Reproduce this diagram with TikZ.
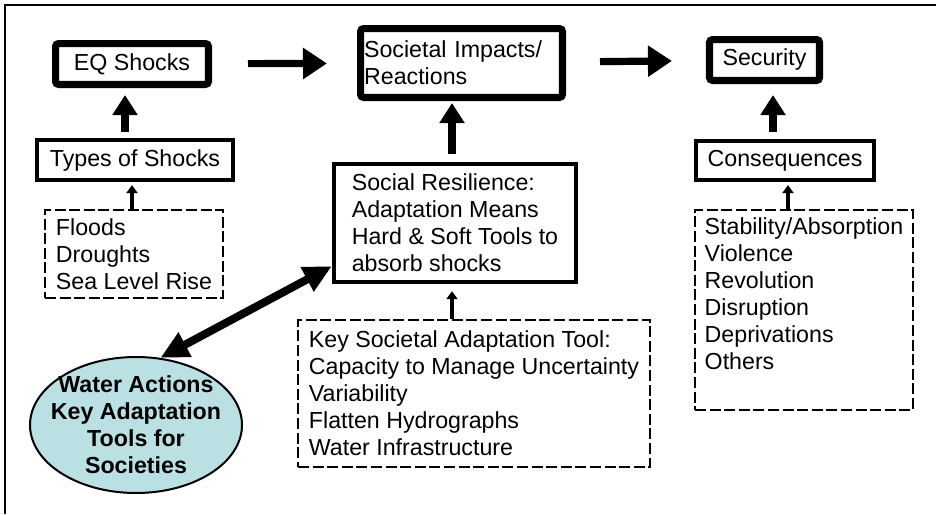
\documentclass[tikz,border=0pt]{standalone}
\usepackage{fontspec}
\setmainfont{Liberation Sans}
\usetikzlibrary{arrows.meta, shapes.geometric}
\definecolor{waterblue}{RGB}{186,224,227}

\begin{document}
\begin{tikzpicture}[x=0.5pt, y=-0.5pt,
  every node/.style={font=\fontsize{11.6}{13.5}\selectfont, align=left, inner sep=0pt},
  thickbox/.style={draw, line width=3.6pt, rounded corners=1.5pt},
  midbox/.style={draw, line width=2.2pt},
  dashbox/.style={draw, line width=1.2pt, dash pattern=on 5.5pt off 1.8pt},
  bigarrow/.style={line width=3.6pt, -{Triangle[length=12pt, width=15pt]}},
  uparrow/.style={line width=3.6pt, -{Triangle[length=10pt, width=12pt]}},
  thinarrow/.style={line width=2.4pt, -{Triangle[length=4pt, width=5.5pt]}},
  dblarrow/.style={line width=4pt, {Triangle[length=14pt, width=13pt]}-{Triangle[length=14pt, width=13pt]}}]
\useasboundingbox (0,0) rectangle (936,514);
\draw[line width=1pt] (5,514) -- (5,5) -- (936,5);

\node[thickbox, minimum width=76.4pt, minimum height=20.4pt] (eq) at (132,64) {EQ Shocks};
\node[thickbox, minimum width=100.9pt, minimum height=34.4pt, text width=97.4pt, inner xsep=1.75pt] (soc) at (461.5,63) {Societal Impacts/\\Reactions};
\node[thickbox, minimum width=55pt, minimum height=20.4pt] (sec) at (764.5,60) {Security};
\node[midbox, minimum width=97.9pt, minimum height=19.9pt] (types) at (135,160) {Types of Shocks};
\node[midbox, minimum width=88.9pt, minimum height=19.4pt] (cons) at (785,160.5) {Consequences};
\node[midbox, minimum width=121pt, minimum height=59pt] (resil) at (455,223) {Social Resilience:\\Adaptation Means\\Hard \& Soft Tools to\\absorb shocks};
\node[dashbox, minimum width=89pt, minimum height=44pt] (floods) at (134,254) {Floods\\Droughts\\Sea Level Rise};
\node[dashbox, minimum width=109pt, minimum height=100pt] (others) at (804,310) {Stability/Absorption\\Violence\\Revolution\\Disruption\\Deprivations\\Others\\[2.5pt]\mbox{}};
\node[dashbox, minimum width=176pt, minimum height=73.5pt] (keytool) at (474,393.5) {Key Societal Adaptation Tool:\\Capacity to Manage Uncertainty\\Variability\\Flatten Hydrographs\\Water Infrastructure};
\node[ellipse, draw, line width=1pt, fill=waterblue, minimum width=106pt, minimum height=68pt] (water) at (136,425) {};
\node[font=\fontsize{11.6}{13.5}\selectfont\bfseries, align=center] (watertext) at (water.center) {Water Actions\\Key Adaptation\\Tools for\\Societies};

\draw[bigarrow, shorten <=18pt, shorten >=15pt] (eq) -- (soc);
\draw[bigarrow, shorten <=17pt, shorten >=17pt] (soc) -- (sec);
\draw[uparrow, shorten <=3pt, shorten >=3.5pt] ([xshift=-5pt]types.north) -- ([xshift=-5pt]types.north |- eq.south);
\draw[uparrow, shorten <=3.5pt, shorten >=5.5pt] ([xshift=-6pt]cons.north) -- ([xshift=-6pt]cons.north |- sec.south);
\draw[uparrow, shorten <=4pt, shorten >=1pt] ([xshift=-1.5pt]resil.north) -- ([xshift=-1.5pt]resil.north |- soc.south);
\draw[thinarrow, shorten >=1.5pt] ([xshift=-1pt]floods.north) -- ([xshift=-1pt]floods.north |- types.south);
\draw[thinarrow, shorten >=3.5pt] ([xshift=-11pt]keytool.north) -- ([xshift=-11pt]keytool.north |- resil.south);
\draw[thinarrow, shorten >=1.5pt] ([xshift=-8pt]others.north) -- ([xshift=-8pt]others.north |- cons.south);
\draw[dblarrow] (water.70) -- ([yshift=9pt]resil.south west);
\end{tikzpicture}
\end{document}
